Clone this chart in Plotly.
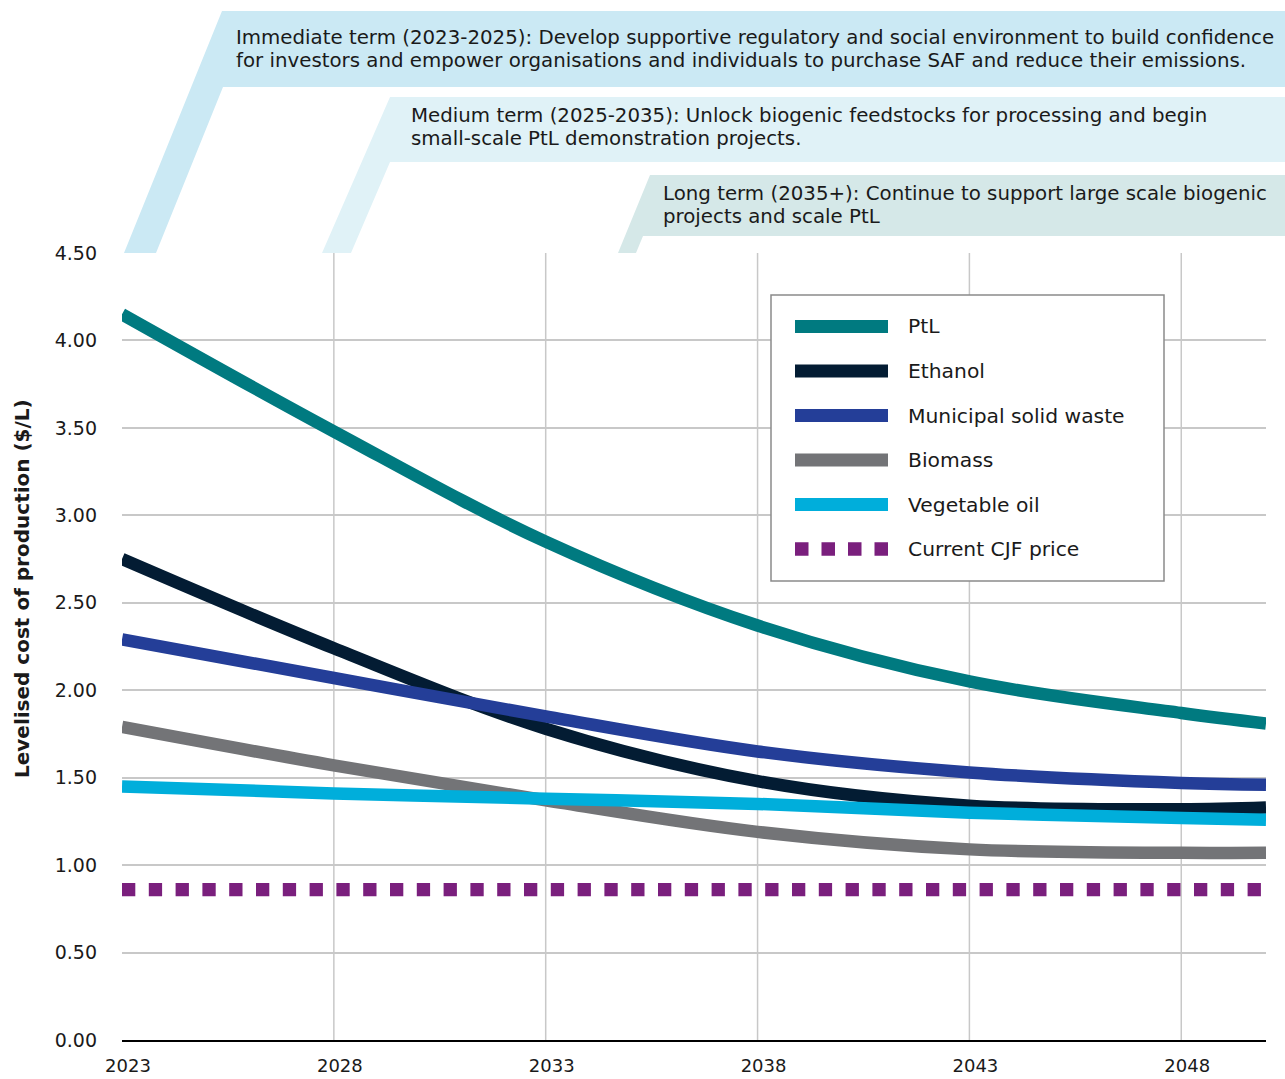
import plotly.graph_objects as go

# ---------------- data ----------------
years = [2023, 2028, 2033, 2038, 2043, 2048, 2050]
ptl = [4.15, 3.48, 2.85, 2.37, 2.05, 1.87, 1.81]
ethanol = [2.75, 2.24, 1.78, 1.48, 1.34, 1.32, 1.33]
msw = [2.29, 2.07, 1.85, 1.65, 1.53, 1.47, 1.46]
biomass = [1.79, 1.57, 1.37, 1.19, 1.09, 1.07, 1.07]
veg_oil = [1.45, 1.41, 1.38, 1.35, 1.30, 1.27, 1.26]
cjf_years = [2023, 2050]
cjf = [0.86, 0.86]

series_names = ["PtL", "Ethanol", "Municipal solid waste", "Biomass", "Vegetable oil", "Current CJF price"]
x_ticks = [2023, 2028, 2033, 2038, 2043, 2048]
y_ticks = [0, 0.5, 1.0, 1.5, 2.0, 2.5, 3.0, 3.5, 4.0, 4.5]
y_title = "Levelised cost of production ($/L)"
banner_lines = [
    ["Immediate term (2023-2025): Develop supportive regulatory and social environment to build confidence",
     "for investors and empower organisations and individuals to purchase SAF and reduce their emissions."],
    ["Medium term (2025-2035): Unlock biogenic feedstocks for processing and begin",
     "small-scale PtL demonstration projects."],
    ["Long term (2035+): Continue to support large scale biogenic",
     "projects and scale PtL"],
]

# ---------------- style ----------------
colors = ["#007A80", "#031C33", "#243E98", "#737477", "#00AEDB", "#7A1F7D"]
FONT = "DejaVu Sans"
TXT = "#1a1a1a"
W, H = 1285, 1079
L, R, T, B = 122, 19, 253, 39
PW, PH = W - L - R, H - T - B


def px(x):
    return (x - L) / PW


def py(y):
    return (H - B - y) / PH


fig = go.Figure()
data_sets = [ptl, ethanol, msw, biomass, veg_oil]
for name, vals, c in zip(series_names[:5], data_sets, colors[:5]):
    fig.add_trace(go.Scatter(x=years, y=vals, mode="lines", name=name,
                             line=dict(color=c, width=12.5, shape="spline", smoothing=1.0),
                             showlegend=False, hoverinfo="skip"))
fig.add_trace(go.Scatter(x=cjf_years, y=cjf, mode="lines", name=series_names[5],
                         line=dict(color=colors[5], width=13.3, dash="13.3px,13.5px"),
                         showlegend=False, hoverinfo="skip"))

shapes = []
annotations = []
# vertical gridlines
for xv in x_ticks[1:]:
    shapes.append(dict(type="line", xref="x", yref="paper", x0=xv, x1=xv, y0=0, y1=1,
                       line=dict(color="#c8c8c8", width=1.5), layer="below"))

# banners
banner_polys = [
    ([(124, 253), (222, 11), (1285, 11), (1285, 87), (223, 87), (156, 253)], "#CBE9F4"),
    ([(322, 253), (390, 97), (1285, 97), (1285, 162), (390, 162), (351, 253)], "#E0F2F7"),
    ([(618, 253), (650, 175), (1285, 175), (1285, 236), (643, 236), (636, 253)], "#D5E8E8"),
]
for pts, col in banner_polys:
    path = "M " + " L ".join(f"{px(a):.5f},{py(b):.5f}" for a, b in pts) + " Z"
    shapes.append(dict(type="path", xref="paper", yref="paper", path=path,
                       fillcolor=col, line=dict(width=0), layer="above"))
banner_pos = [(236, 37), (411, 115), (663, 194)]
for (bx, by), lines in zip(banner_pos, banner_lines):
    for k, txt in enumerate(lines):
        annotations.append(dict(xref="paper", yref="paper", x=px(bx - 2), y=py(by + 23 * k), text=txt,
                                showarrow=False, xanchor="left", yanchor="middle", align="left",
                                font=dict(family=FONT, size=19.8, color=TXT)))

# legend (drawn manually)
shapes.append(dict(type="rect", xref="paper", yref="paper", x0=px(771), x1=px(1164),
                   y0=py(581), y1=py(295), fillcolor="white",
                   line=dict(color="#8a8a8a", width=1.5), layer="above"))
leg_y0, leg_dy = 326.5, 44.5
for i, (name, c) in enumerate(zip(series_names, colors)):
    yy = leg_y0 + i * leg_dy
    if i < 5:
        shapes.append(dict(type="line", xref="paper", yref="paper", x0=px(795), x1=px(888),
                           y0=py(yy), y1=py(yy), line=dict(color=c, width=13), layer="above"))
    else:
        shapes.append(dict(type="line", xref="paper", yref="paper", x0=px(795), x1=px(890),
                           y0=py(yy), y1=py(yy),
                           line=dict(color=c, width=13.3, dash="13.5px,13px"), layer="above"))
    annotations.append(dict(xref="paper", yref="paper", x=px(906), y=py(yy), text=name,
                            showarrow=False, xanchor="left", yanchor="middle",
                            font=dict(family=FONT, size=20.3, color=TXT)))

# y axis title
annotations.append(dict(xref="paper", yref="paper", x=px(22), y=py(589), text=y_title,
                        textangle=-90, showarrow=False, xanchor="center", yanchor="middle",
                        font=dict(family=FONT, size=20, color=TXT, weight="bold")))

fig.update_layout(
    width=W, height=H,
    margin=dict(l=L, r=R, t=T, b=B, pad=0, autoexpand=False),
    paper_bgcolor="white", plot_bgcolor="white",
    showlegend=False,
    shapes=shapes, annotations=annotations,
    font=dict(family=FONT, size=18, color=TXT),
    xaxis=dict(range=[2023, 2050], tickvals=x_ticks, ticktext=[str(v) for v in x_ticks],
               showgrid=False, zeroline=False, showline=True, linecolor="#000000", linewidth=2,
               ticks="", ticklabelstandoff=8, ticklabelshift=6, automargin=False,
               tickfont=dict(family=FONT, size=18, color=TXT)),
    yaxis=dict(range=[0, 4.5], tickvals=y_ticks, ticktext=[f"{v:.2f}" for v in y_ticks],
               showgrid=True, gridcolor="#c8c8c8", gridwidth=1.5, zeroline=False,
               showline=False, ticks="", ticklabelstandoff=24, automargin=False,
               tickfont=dict(family=FONT, size=19, color=TXT)),
)

fig.write_html("out.html", config={"displayModeBar": False},
               post_script="document.body.style.margin='0px';document.body.style.overflow='hidden';")
